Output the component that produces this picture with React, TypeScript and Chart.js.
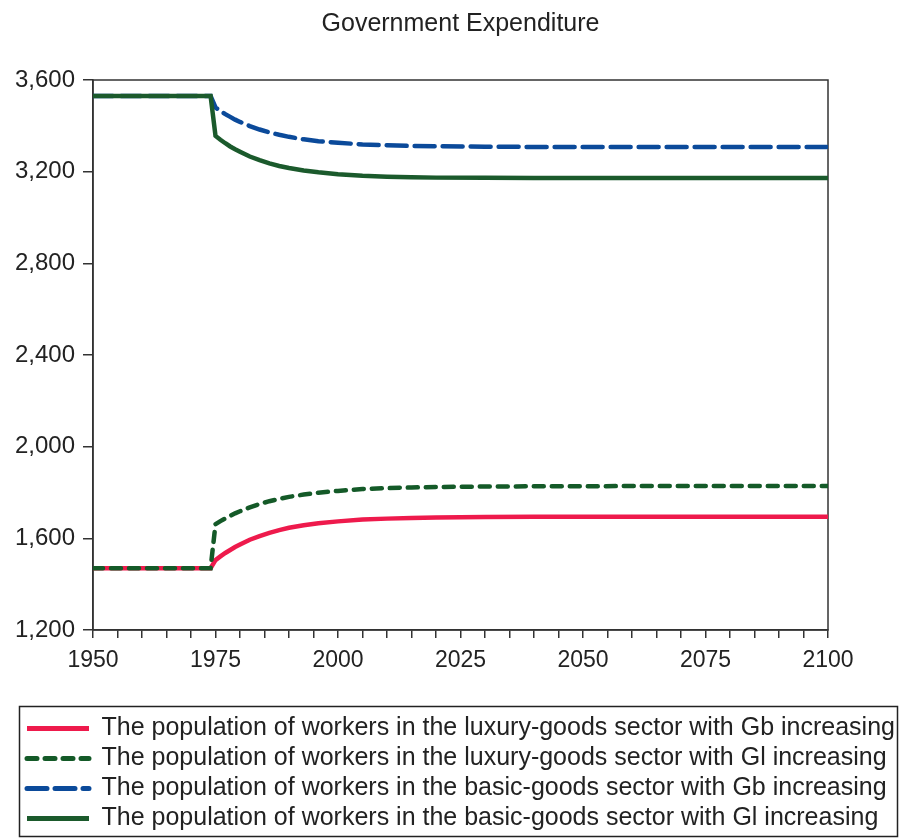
import React, { useEffect, useRef } from 'react';
import { Chart, registerables } from 'chart.js';

Chart.register(...registerables);

const FONT = "'Liberation Sans', Arial, Helvetica, sans-serif";

const years = [1950, 1974, 1975, 1976, 1977, 1978, 1979, 1980, 1982, 1984, 1986, 1988, 1990, 1993, 1996, 2000, 2005, 2010, 2015, 2020, 2030, 2040, 2060, 2080, 2100];

const luxuryGb = [1470, 1470, 1505, 1521, 1536, 1549, 1562, 1573, 1594, 1610, 1624, 1636, 1646, 1657, 1666, 1674, 1682, 1686, 1689, 1691, 1693, 1694, 1694, 1694, 1694];
const luxuryGl = [1470, 1470, 1662, 1675, 1687, 1698, 1709, 1718, 1735, 1750, 1762, 1772, 1781, 1791, 1799, 1807, 1815, 1819, 1822, 1824, 1826, 1827, 1828, 1828, 1828];
const basicGb = [3530, 3530, 3480, 3465, 3451, 3439, 3427, 3417, 3399, 3384, 3371, 3361, 3352, 3341, 3333, 3326, 3319, 3315, 3312, 3311, 3309, 3308, 3308, 3308, 3308];
const basicGl = [3530, 3530, 3356, 3339, 3324, 3310, 3298, 3287, 3266, 3250, 3236, 3225, 3216, 3205, 3197, 3189, 3182, 3178, 3176, 3174, 3173, 3172, 3172, 3172, 3172];

const seriesLabels = [
  'The population of workers in the luxury-goods sector with Gb increasing',
  'The population of workers in the luxury-goods sector with Gl increasing',
  'The population of workers in the basic-goods sector with Gb increasing',
  'The population of workers in the basic-goods sector with Gl increasing',
];

const yTicks = [1200, 1600, 2000, 2400, 2800, 3200, 3600];
const xLabelEvery = 25;

const toPoints = (vals: number[]) => years.map((x, i) => ({ x, y: vals[i] }));

const framePlugin = {
  id: 'frame',
  afterLayout(chart: any) {
    const lg = chart.legend;
    if (lg) {
      lg.left = 22;
      lg.right = chart.width - 5;
      lg.top += 3;
      lg.bottom += 3;
    }
  },
  beforeDatasetsDraw(chart: any) {
    const { ctx, chartArea } = chart;
    ctx.save();
    ctx.strokeStyle = '#333';
    ctx.lineWidth = 1.5;
    ctx.strokeRect(chartArea.left, chartArea.top, chartArea.right - chartArea.left, chartArea.bottom - chartArea.top);
    ctx.restore();
  },
  afterDraw(chart: any) {
    const { ctx } = chart;
    ctx.save();
    ctx.strokeStyle = '#222';
    ctx.lineWidth = 1.5;
    ctx.strokeRect(19.5, 706.5, chart.width - 25, chart.height - 708);
    ctx.restore();
  },
};

export default function App() {
  const ref = useRef<HTMLCanvasElement | null>(null);
  useEffect(() => {
    document.body.style.margin = '0';
    const canvas = ref.current;
    if (!canvas) return;
    const baseLabels = (Chart.defaults as any).plugins.legend.labels.generateLabels;
    const chart = new Chart(canvas, {
      type: 'line',
      data: {
        datasets: [
          {
            label: seriesLabels[0],
            data: toPoints(luxuryGb),
            borderColor: '#ee1a4c',
            backgroundColor: '#ee1a4c',
            borderWidth: 4.5,
            order: 3,
          },
          {
            label: seriesLabels[1],
            data: toPoints(luxuryGl),
            borderColor: '#145a28',
            backgroundColor: '#145a28',
            borderWidth: 4.5,
            borderDash: [10, 8],
            borderCapStyle: 'round',
            order: 1,
          },
          {
            label: seriesLabels[2],
            data: toPoints(basicGb),
            borderColor: '#0b4a9a',
            backgroundColor: '#0b4a9a',
            borderWidth: 4.5,
            borderDash: [20, 8],
            borderCapStyle: 'round',
            order: 2,
          },
          {
            label: seriesLabels[3],
            data: toPoints(basicGl),
            borderColor: '#1b5a2c',
            backgroundColor: '#1b5a2c',
            borderWidth: 4.5,
            order: 0,
          },
        ],
      },
      options: {
        animation: false,
        responsive: false,
        devicePixelRatio: 1,
        layout: { padding: { left: 5, right: 5, top: 0, bottom: 0 } },
        elements: { point: { radius: 0 }, line: { tension: 0 } },
        plugins: {
          title: {
            display: true,
            fullSize: false,
            text: 'Government Expenditure',
            color: '#222',
            font: { family: FONT, size: 25, weight: 'normal' },
            padding: { top: 9, bottom: 41 },
          },
          legend: {
            position: 'bottom',
            align: 'start',
            labels: {
              usePointStyle: true,
              pointStyle: 'line',
              pointStyleWidth: 62,
              color: '#222',
              font: { family: FONT, size: 25 },
              padding: 5,
              sort: (a: any, b: any) => a.datasetIndex - b.datasetIndex,
              generateLabels: (c: any) =>
                baseLabels(c).map((item: any) => {
                  const ds = c.data.datasets[item.datasetIndex];
                  return {
                    ...item,
                    lineDash: ds.borderDash || [],
                    lineCap: ds.borderCapStyle || 'butt',
                    lineWidth: 5,
                    strokeStyle: ds.borderColor,
                  };
                }),
            },
          },
          tooltip: { enabled: false },
        },
        scales: {
          x: {
            type: 'linear',
            min: years[0],
            max: years[years.length - 1],
            ticks: {
              stepSize: 5,
              autoSkip: false,
              maxRotation: 0,
              minRotation: 0,
              color: '#222',
              font: { family: FONT, size: 23 },
              padding: 9,
              callback: (v: any) => (Number(v) % xLabelEvery === 0 ? String(v) : ''),
            },
            grid: { drawOnChartArea: false, drawTicks: true, tickLength: 8, color: '#333', lineWidth: 1.5 },
            border: { display: true, color: '#333', width: 1.5 },
            afterFit: (s: any) => { s.height = 78; },
          },
          y: {
            type: 'linear',
            position: 'left',
            min: yTicks[0],
            max: yTicks[yTicks.length - 1],
            afterBuildTicks: (s: any) => { s.ticks = yTicks.map((value) => ({ value })); },
            ticks: {
              color: '#222',
              font: { family: FONT, size: 24 },
              padding: 8,
              callback: (v: any) => Number(v).toLocaleString('en-US'),
            },
            grid: { drawOnChartArea: false, drawTicks: true, tickLength: 10, color: '#333', lineWidth: 1.5 },
            border: { display: true, color: '#333', width: 1.5 },
            afterFit: (s: any) => { s.width = 88; },
          },
          yRight: {
            type: 'linear',
            position: 'right',
            display: true,
            min: yTicks[0],
            max: yTicks[yTicks.length - 1],
            ticks: { display: false },
            grid: { display: false, drawTicks: false },
            border: { display: false },
            afterFit: (s: any) => { s.width = 70; },
          },
        },
      },
      plugins: [framePlugin],
    });
    return () => chart.destroy();
  }, []);
  return (
    <div style={{ width: 903, height: 838 }}>
      <canvas ref={ref} width={903} height={838} style={{ width: 903, height: 838, display: 'block' }} />
    </div>
  );
}
